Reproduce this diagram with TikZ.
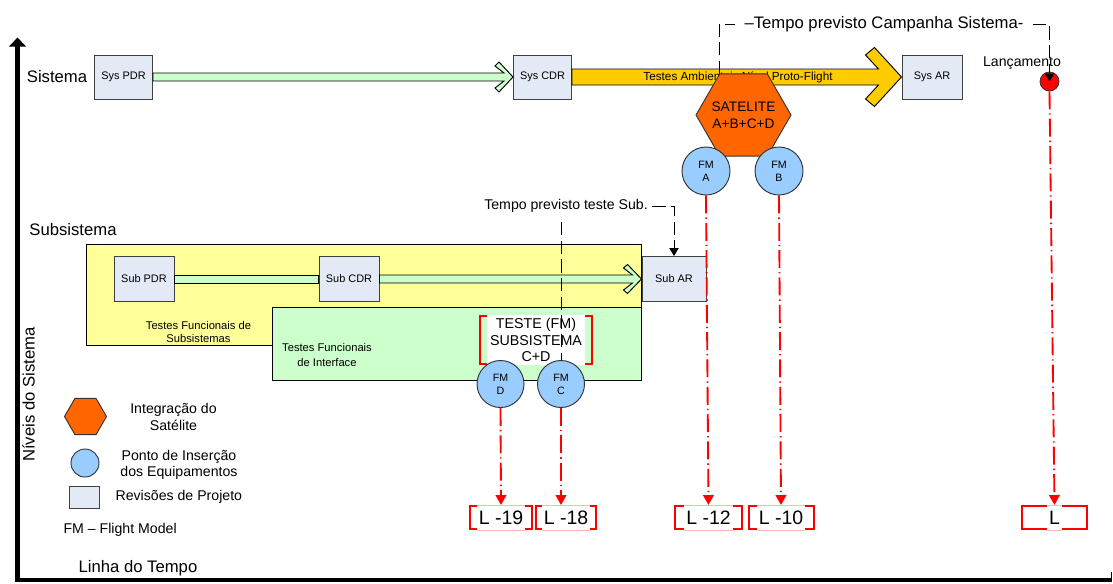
\documentclass[tikz,border=0pt]{standalone}
\usepackage{fontspec}
\setmainfont{Liberation Sans}
\usetikzlibrary{arrows.meta,shapes.geometric,calc}

\definecolor{revfill}{HTML}{E3E9F5}
\definecolor{bargreen}{HTML}{CCFFCC}
\definecolor{subyellow}{HTML}{FFFF99}
\definecolor{satorange}{HTML}{FF6600}
\definecolor{campyellow}{HTML}{FFCC00}
\definecolor{fmblue}{HTML}{99CCFF}
\definecolor{tagpink}{HTML}{FFB8B8}

\tikzset{
  rev/.style={draw=black!75, fill=revfill, line width=0.75pt, inner sep=0pt,
    font=\fontsize{8.2}{10}\selectfont},
  fm/.style={circle, draw=black!80, fill=fmblue, line width=0.7pt, inner sep=0pt,
    minimum size=36pt, align=center, font=\fontsize{8}{9.8}\selectfont},
  hexa/.style={regular polygon, regular polygon sides=6, draw=black!80,
    fill=satorange, line width=0.7pt, inner sep=0pt},
  fatarrow/.style={draw=black, line width=0.7pt, line join=miter},
  tdash/.style={draw=black, line width=0.75pt, dash pattern=on 10pt off 4pt},
  blktip/.style={-{Triangle[length=6pt,width=7pt]}},
  reddash/.style={draw=red, line width=1.4pt,
    dash pattern=on 13.5pt off 3pt on 1pt off 3pt,
    -{Triangle[length=7.5pt,width=8pt]}},
  biglabel/.style={font=\fontsize{12.5}{15}\selectfont, inner sep=1pt},
  midlabel/.style={font=\fontsize{10.6}{12.2}\selectfont, align=center, inner sep=1pt},
  smalllabel/.style={font=\fontsize{8.4}{10}\selectfont, align=center, inner sep=1pt},
  redbox/.style={draw=red, line width=1.5pt, inner sep=0pt},
  tagtext/.style={fill=white, inner xsep=1.5pt, inner ysep=0pt, minimum height=18.9pt,
    font=\fontsize{14.6}{16}\selectfont},
}

% launch-time tag: red frame, text on white over the middle of its edges
\newcommand\redtag[4]{%
  \node[redbox, minimum width=#3, minimum height=17.25pt] (#1) at (#2,517.5) {};
  \node[tagtext] (#1t) at (#1) {#4};
  \draw[tagpink, line width=0.6pt] (#1t.west |- #1.north) -- (#1t.east |- #1.north)
    (#1t.west |- #1.south) -- (#1t.east |- #1.south);
}

\begin{document}
\begin{tikzpicture}[x=0.75pt,y=-0.75pt]
\useasboundingbox (0,0) rectangle (1113,583);

% ---- subsystem level: test areas ----
\draw[fill=subyellow, line width=0.6pt] (86,244) rectangle (641,345);
\draw[fill=bargreen, line width=0.6pt] (272,307) rectangle (641,380);
\node[smalllabel] (tfsub) at (198.5,332) {Testes Funcionais de\\Subsistemas};
\node[smalllabel, font=\fontsize{8.4}{11}\selectfont] (tfint) at (327,355) {Testes Funcionais\\de Interface};

% ---- design reviews ----
\node[rev, minimum width=43.5pt, minimum height=33pt] (syspdr) at (123.5,77) {Sys PDR};
\node[rev, minimum width=43.5pt, minimum height=33pt] (syscdr) at (542.5,77) {Sys CDR};
\node[rev, minimum width=45pt, minimum height=33pt] (sysar) at (932,77) {Sys AR};
\node[rev, minimum width=45pt, minimum height=33.75pt] (subpdr) at (144,279) {Sub PDR};
\node[rev, minimum width=45pt, minimum height=33.75pt] (subcdr) at (349,279) {Sub CDR};
\node[rev, minimum width=48pt, minimum height=33.75pt] (subar) at (674,279) {Sub AR};

% ---- block arrows between reviews ----
\draw[fatarrow, fill=bargreen]
  ($(syspdr.east)+(0,-4)$) -- ($(syscdr.west)+(-9,-4)$) -- ($(syscdr.west)+(-18,-11)$)
  -- ($(syscdr.west)+(-14,-15)$) -- (syscdr.west) -- ($(syscdr.west)+(-14,15)$)
  -- ($(syscdr.west)+(-18,11)$) -- ($(syscdr.west)+(-9,4)$) -- ($(syspdr.east)+(0,4)$) -- cycle;
\draw[fatarrow, fill=campyellow]
  ($(syscdr.east)+(0,-8)$) -- ($(sysar.west)+(-23,-8)$) -- ($(sysar.west)+(-36,-22)$)
  -- ($(sysar.west)+(-27,-29.5)$) -- (sysar.west) -- ($(sysar.west)+(-27,29.5)$)
  -- ($(sysar.west)+(-36,22)$) -- ($(sysar.west)+(-23,8)$) -- ($(syscdr.east)+(0,8)$) -- cycle;
\draw[fatarrow, fill=bargreen]
  ($(subpdr.east)+(0,-4)$) rectangle ($(subcdr.west)+(0,4)$);
\draw[fatarrow, fill=bargreen]
  ($(subcdr.east)+(0,-4)$) -- ($(subar.west)+(-9,-4)$) -- ($(subar.west)+(-18,-11)$)
  -- ($(subar.west)+(-14,-14.5)$) -- (subar.west) -- ($(subar.west)+(-14,14.5)$)
  -- ($(subar.west)+(-18,11)$) -- ($(subar.west)+(-9,4)$) -- ($(subcdr.east)+(0,4)$) -- cycle;
\node[font=\fontsize{8.8}{10}\selectfont, inner sep=0pt] (envtest) at (738,77) {Testes Ambientais Nível Proto-Flight};

% ---- system campaign time span ----
\node[circle, draw=black!80, fill=red, line width=0.6pt, minimum size=14.25pt, inner sep=0pt] (launch) at (1049.5,81.5) {};
\node[midlabel] (lanc) at (1022,63) {Lançamento};
\node[biglabel] (tcamp) at (884,24) {–Tempo previsto Campanha Sistema-};
\coordinate (campleft) at (719,74);
\draw[tdash] (campleft) |- ($(tcamp.west)+(-8,0)$);
\draw[tdash, blktip] ($(tcamp.east)+(8,0)$) -| (launch.center);

% ---- satellite integration ----
\node[hexa, minimum size=71.25pt] (sat) at (743.5,115) {};
\node[align=center, inner sep=0pt, font=\fontsize{10.3}{12.7}\selectfont] (sattext) at (sat) {SATELITE\\A+B+C+D};
\node[fm] (fma) at (706,171) {FM\\A};
\node[fm] (fmb) at (779,171) {FM\\B};

% ---- subsystem test of C+D ----
\node[redbox, minimum width=84pt, minimum height=36pt] (teste) at (536,340) {};
\node[fill=white, inner xsep=2pt, inner ysep=0pt, minimum height=37.5pt, align=center,
  font=\fontsize{10.7}{12.4}\selectfont] (testetext) at (teste) {TESTE (FM)\\SUBSISTEMA\\C+D};
\node[midlabel] (tsub) at (566,206) {Tempo previsto teste Sub.};
\draw[tdash, blktip] ($(tsub.east)+(3,0)$) -| (subar.north);
\coordinate (subtop) at (561,222);
\draw[tdash] (subtop) -- (561,360);
\node[fm, minimum size=35.25pt] (fmd) at (500.5,384) {FM\\D};
\node[fm, minimum size=35.25pt] (fmc) at (561,384) {FM\\C};

% ---- launch-relative dates ----
\redtag{l19}{501}{46.5pt}{L -19}
\redtag{l18}{566}{45pt}{L -18}
\redtag{l12}{708.5}{50.25pt}{L -12}
\redtag{l10}{781}{48.75pt}{L -10}
\redtag{lzero}{1054.5}{48.75pt}{L}
\draw[reddash] (fmd.south) -- (l19.north);
\draw[reddash] (fmc.south) -- (fmc.south |- l18.north);
\draw[reddash] (fma.south) -- (l12.north);
\draw[reddash] (fmb.south) -- (l10.north);
\draw[reddash] (launch.south) -- (lzero.north);

% ---- legend ----
\node[hexa, minimum size=31.5pt] (keysat) at (85.5,416.5) {};
\node[midlabel] (keysattext) at (173.5,417) {Integração do\\Satélite};
\node[circle, draw=black!80, fill=fmblue, line width=0.7pt, minimum size=21pt, inner sep=0pt] (keyfm) at (85,463) {};
\node[midlabel] (keyfmtext) at (179,465) {Ponto de Inserção\\dos Equipamentos};
\node[draw=black!75, fill=revfill, line width=0.75pt, minimum width=22.5pt, minimum height=16.5pt, inner sep=0pt] (keyrev) at (84,497) {};
\node[midlabel, anchor=west] (keyrevtext) at (114,497) {Revisões de Projeto};
\node[midlabel, anchor=west] (keyfmdef) at (62,530) {FM – Flight Model};

% ---- axes ----
\node[biglabel] (lsys) at (57,77) {Sistema};
\node[biglabel] (lsub) at (73,230) {Subsistema};
\node[biglabel, rotate=90, anchor=base] (lniv) at (34.5,394.5) {Níveis do Sistema};
\node[biglabel] (ltime) at (138,568) {Linha do Tempo};
\draw[line width=3.75pt] (17.5,582) -- (17.5,45);
\fill (9,46.5) -- (17.5,37.5) -- (26,46.5) -- cycle;
\draw[line width=3pt] (15.6,580) -- (1111,580);
\draw[line width=0.8pt] (1111.5,572) -- (1111.5,582);
\end{tikzpicture}
\end{document}
